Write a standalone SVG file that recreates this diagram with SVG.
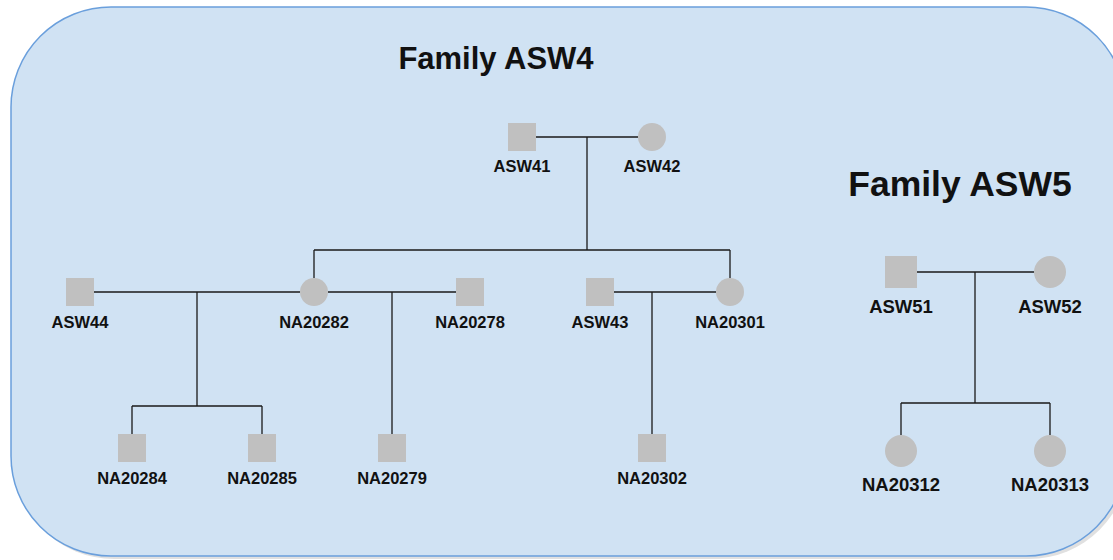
<svg xmlns="http://www.w3.org/2000/svg" width="1113" height="560" viewBox="0 0 1113 560">
<style>
.sq{fill:#c0c0c0}
.ci{fill:#c0c0c0}
.lbl{font-family:"Liberation Sans",Arial,sans-serif;font-weight:bold;font-size:16.5px;fill:#111;text-anchor:middle}
.lbl5{font-family:"Liberation Sans",Arial,sans-serif;font-weight:bold;font-size:18.5px;fill:#111;text-anchor:middle}
.title{font-family:"Liberation Sans",Arial,sans-serif;font-weight:bold;fill:#111;text-anchor:middle}
.ln{fill:none;stroke:#1a1a1a;stroke-width:1.3}
</style>
<g id="background">
<rect x="14" y="10" width="1115" height="549" rx="100" ry="100" fill="#000" opacity="0.12"/>
<rect x="11" y="7" width="1115" height="549" rx="100" ry="100" fill="#d0e2f3" stroke="#6a9fdc" stroke-width="1.5"/>
</g>
<text class="title" x="496" y="69" font-size="31">Family ASW4</text>
<text class="title" x="960" y="196" font-size="35.5">Family ASW5</text>
<g id="connectors">
<path class="ln" d="M536 137H638M587 137V250M314 250H730M314 250V278M730 250V278"/>
<path class="ln" d="M94 292H300M197 292V406M132 406H262M132 406V434M262 406V434"/>
<path class="ln" d="M328 292H456M392 292V434"/>
<path class="ln" d="M614 292H716M652 292V434"/>
<path class="ln" d="M917 272H1034M975 272V403M901 403H1050M901 403V435M1050 403V435"/>
</g>
<g id="ASW41"><rect class="sq" x="508" y="123" width="28" height="28"/><text class="lbl" x="522" y="172">ASW41</text></g>
<g id="ASW42"><circle class="ci" cx="652" cy="137" r="14"/><text class="lbl" x="652" y="172">ASW42</text></g>
<g id="ASW44"><rect class="sq" x="66" y="278" width="28" height="28"/><text class="lbl" x="80" y="328">ASW44</text></g>
<g id="NA20282"><circle class="ci" cx="314" cy="292" r="14"/><text class="lbl" x="314" y="328">NA20282</text></g>
<g id="NA20278"><rect class="sq" x="456" y="278" width="28" height="28"/><text class="lbl" x="470" y="328">NA20278</text></g>
<g id="ASW43"><rect class="sq" x="586" y="278" width="28" height="28"/><text class="lbl" x="600" y="328">ASW43</text></g>
<g id="NA20301"><circle class="ci" cx="730" cy="292" r="14"/><text class="lbl" x="730" y="328">NA20301</text></g>
<g id="NA20284"><rect class="sq" x="118" y="434" width="28" height="28"/><text class="lbl" x="132" y="484">NA20284</text></g>
<g id="NA20285"><rect class="sq" x="248" y="434" width="28" height="28"/><text class="lbl" x="262" y="484">NA20285</text></g>
<g id="NA20279"><rect class="sq" x="378" y="434" width="28" height="28"/><text class="lbl" x="392" y="484">NA20279</text></g>
<g id="NA20302"><rect class="sq" x="638" y="434" width="28" height="28"/><text class="lbl" x="652" y="484">NA20302</text></g>
<g id="ASW51"><rect class="sq" x="885" y="256" width="32" height="32"/><text class="lbl5" x="901" y="313">ASW51</text></g>
<g id="ASW52"><circle class="ci" cx="1050" cy="272" r="16"/><text class="lbl5" x="1050" y="313">ASW52</text></g>
<g id="NA20312"><circle class="ci" cx="901" cy="451" r="16"/><text class="lbl5" x="901" y="491">NA20312</text></g>
<g id="NA20313"><circle class="ci" cx="1050" cy="451" r="16"/><text class="lbl5" x="1050" y="491">NA20313</text></g>
</svg>
